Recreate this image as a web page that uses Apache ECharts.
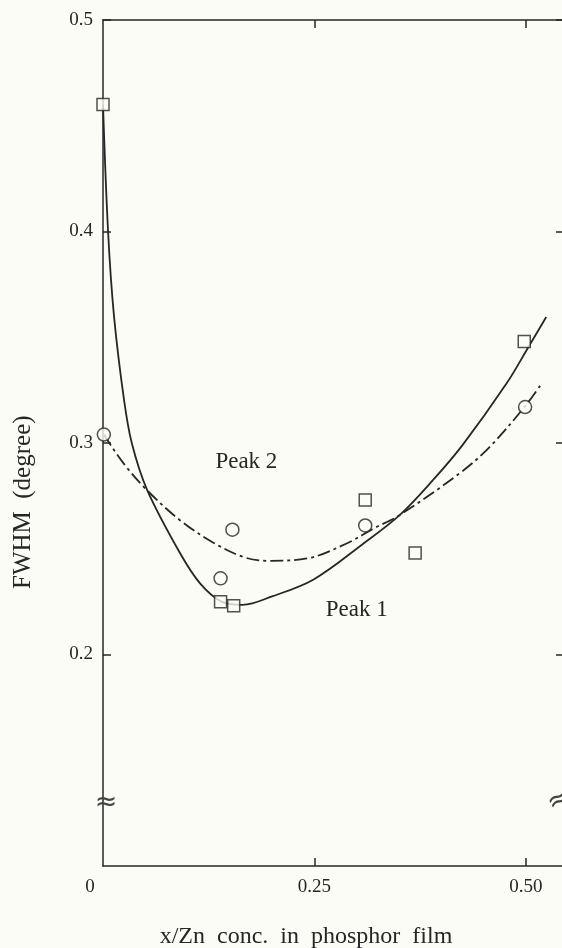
<!DOCTYPE html>
<html>
<head>
<meta charset="utf-8">
<script src="https://cdn.jsdelivr.net/npm/echarts@6/dist/echarts.min.js"></script>
<style>
  html, body { margin: 0; padding: 0; background: #fcfcf6; }
  #chart { width: 562px; height: 948px; }
</style>
</head>
<body>
<div id="chart"></div>
<script>
// Measured points: squares = Peak 1, circles = Peak 2
const peak1X = [0.000, 0.139, 0.1545, 0.310, 0.369, 0.498];
const peak1Y = [0.460, 0.225, 0.223, 0.273, 0.248, 0.348];
const peak2X = [0.001, 0.139, 0.153, 0.310, 0.499];
const peak2Y = [0.304, 0.236, 0.259, 0.261, 0.317];

// Fitted curves through the measurements
const fit1X = [0.000, 0.006, 0.013, 0.025, 0.034, 0.052, 0.091, 0.115, 0.140, 0.165, 0.200, 0.249, 0.308, 0.351, 0.390, 0.425, 0.477, 0.503, 0.524];
const fit1Y = [0.460, 0.400, 0.360, 0.320, 0.300, 0.278, 0.248, 0.2335, 0.225, 0.2235, 0.2275, 0.2355, 0.2525, 0.266, 0.2824, 0.299, 0.3281, 0.3454, 0.3596];
const fit2X = [0.001, 0.025, 0.052, 0.091, 0.130, 0.166, 0.194, 0.241, 0.288, 0.320, 0.351, 0.422, 0.457, 0.499, 0.519];
const fit2Y = [0.304, 0.290, 0.2777, 0.2635, 0.253, 0.2461, 0.2443, 0.2454, 0.2525, 0.2596, 0.266, 0.2858, 0.2981, 0.3174, 0.3284];

// Axis ticks
const xTicks = [0, 0.25, 0.5];
const yTicks = [0.2, 0.3, 0.4, 0.5];

const zip = (xs, ys) => xs.map((x, i) => [x, ys[i]]);

const BG = '#fcfcf6';
const INK = '#262626';
const SERIF = '"Liberation Serif", "DejaVu Serif", serif';
const X_MIN = 0, X_MAX = 0.545, Y_MIN = 0.1, Y_MAX = 0.5;

const chart = echarts.init(document.getElementById('chart'), null, { renderer: 'canvas' });

const axisLine = { show: true, onZero: false, lineStyle: { color: INK, width: 1.5 } };
const tickIn = (vals) => ({ show: true, inside: true, length: 8, customValues: vals, lineStyle: { color: INK, width: 1.5 } });

chart.setOption({
  backgroundColor: BG,
  animation: false,
  grid: { left: 103, top: 20, width: 461, height: 846, outerBoundsMode: 'none', containLabel: false },
  xAxis: [
    {
      type: 'value', position: 'bottom', min: X_MIN, max: X_MAX,
      axisLine, splitLine: { show: false },
      axisTick: tickIn(xTicks.slice(1)),
      axisLabel: {
        customValues: xTicks, margin: 12, color: INK, fontFamily: SERIF, fontSize: 19,
        formatter: v => v === 0 ? '{z|0}' : v.toFixed(2),
        rich: { z: { fontFamily: SERIF, fontSize: 19, color: INK, padding: [0, 26, 0, 0] } }
      }
    },
    {
      type: 'value', position: 'top', min: X_MIN, max: X_MAX,
      axisLine, splitLine: { show: false },
      axisTick: tickIn(xTicks.slice(1)),
      axisLabel: { show: false }
    }
  ],
  yAxis: [
    {
      type: 'value', position: 'left', min: Y_MIN, max: Y_MAX,
      axisLine, splitLine: { show: false },
      axisTick: tickIn(yTicks),
      axisLabel: {
        customValues: yTicks, margin: 10, color: INK, fontFamily: SERIF, fontSize: 19,
        formatter: v => v.toFixed(1)
      }
    },
    {
      type: 'value', position: 'right', min: Y_MIN, max: Y_MAX,
      axisLine, splitLine: { show: false },
      axisTick: tickIn(yTicks),
      axisLabel: { show: false }
    }
  ],
  series: [
    {
      name: 'Peak 1 fit', type: 'line', data: zip(fit1X, fit1Y),
      smooth: 0.35, symbol: 'none', z: 2,
      lineStyle: { color: INK, width: 1.8, type: 'solid' }
    },
    {
      name: 'Peak 2 fit', type: 'line', data: zip(fit2X, fit2Y),
      smooth: 0.35, symbol: 'none', z: 2,
      lineStyle: { color: INK, width: 1.8, type: [13, 4, 3, 4] }
    },
    {
      name: 'Peak 1', type: 'scatter', data: zip(peak1X, peak1Y),
      symbol: 'rect', symbolSize: 12, z: 5,
      itemStyle: { color: BG, borderColor: INK, borderWidth: 1.5 }
    },
    {
      name: 'Peak 2', type: 'scatter', data: zip(peak2X, peak2Y),
      symbol: 'circle', symbolSize: 13, z: 5,
      itemStyle: { color: BG, borderColor: INK, borderWidth: 1.5 }
    }
  ]
});

// Curve labels, axis-break marks and axis titles placed through the chart's own scales
const toPx = (pt) => chart.convertToPixel({ gridIndex: 0 }, pt);
const peak2Pos = toPx([0.1695, 0.291]);
const peak1Pos = toPx([0.2999, 0.221]);
const breakL = toPx([X_MIN, 0.13]);
const breakR = toPx([0.539, 0.131]);
const yMid = toPx([0, 0.272]);

const txt = (pos, text, size, extra) => Object.assign({
  type: 'text', x: pos[0], y: pos[1], z: 10,
  style: { text, fontFamily: SERIF, fontSize: size, fill: INK, align: 'center', verticalAlign: 'middle' }
}, extra || {});

const breakStyle = { fontFamily: '"DejaVu Sans", sans-serif', fontSize: 27, fill: '#444', align: 'center', verticalAlign: 'middle' };

chart.setOption({
  graphic: [
    txt(peak2Pos, 'Peak 2', 23),
    txt(peak1Pos, 'Peak 1', 23),
    { type: 'text', x: breakL[0] + 3, y: breakL[1], z: 10, style: Object.assign({ text: '\u2248' }, breakStyle) },
    { type: 'text', x: breakR[0], y: breakR[1], z: 10, rotation: 0.5, style: Object.assign({ text: '\u2248' }, breakStyle) },
    txt([23, yMid[1]], 'FWHM  (degree)', 25, { rotation: Math.PI / 2 }),
    txt([306, 937], 'x/Zn  conc.  in  phosphor  film', 24)
  ]
});
</script>
</body>
</html>
